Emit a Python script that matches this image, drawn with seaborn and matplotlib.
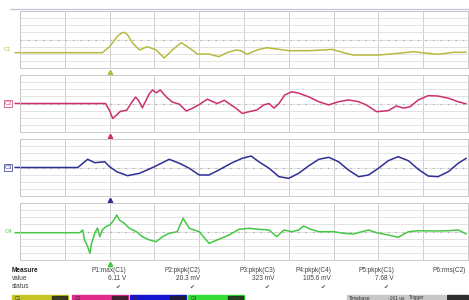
import matplotlib
matplotlib.use("Agg")
import matplotlib.pyplot as plt
import seaborn as sns
from matplotlib.patches import Rectangle

# traces: time in divisions (10 across the screen), amplitude in divisions from the centre line
c1_t = [-0.11, 0.89, 1.84, 2.0, 2.16, 2.25, 2.31, 2.37, 2.42, 2.51, 2.67, 2.84, 3.04, 3.22, 3.4,
        3.6, 3.78, 3.96, 4.22, 4.44, 4.62, 4.82, 4.93, 5.07, 5.29, 5.51, 5.78, 6.0, 6.44, 6.78,
        6.96, 7.22, 7.44, 8.0, 8.44, 8.78, 9.11, 9.33, 9.67, 9.96]
c1_v = [-1.85, -1.85, -1.85, -1.01, 0.35, 0.85, 1.01, 0.85, 0.49, -0.49, -1.47, -1.01, -1.47, -2.6, -1.47,
        -0.45, -1.19, -2.04, -2.04, -2.41, -1.85, -1.47, -1.57, -2.08, -1.47, -1.15, -1.38, -1.57, -1.57, -1.47,
        -1.38, -1.85, -2.18, -2.18, -1.94, -1.71, -1.94, -2.08, -1.8, -1.8]

c2_t = [-0.11, 0.89, 1.91, 2.0, 2.07, 2.16, 2.24, 2.38, 2.51, 2.58, 2.64, 2.73, 2.89, 2.96, 3.04,
        3.13, 3.27, 3.4, 3.56, 3.71, 3.84, 4.0, 4.18, 4.4, 4.56, 4.71, 4.82, 4.96, 5.11, 5.29,
        5.44, 5.56, 5.67, 5.78, 5.91, 6.07, 6.22, 6.44, 6.67, 6.89, 7.11, 7.33, 7.56, 7.73, 7.96,
        8.22, 8.4, 8.56, 8.71, 8.89, 9.11, 9.33, 9.56, 9.78, 9.96]
c2_v = [0.0, 0.0, 0.0, -1.0, -2.1, -1.6, -1.1, -0.95, 0.3, 0.9, 0.5, -0.6, 1.4, 1.9, 1.5,
        1.9, 0.9, 0.2, -0.1, -1.05, -0.7, -0.15, 0.6, 0.0, 0.45, -0.2, -0.65, -1.4, -1.15, -0.9,
        -0.2, 0.0, -0.65, 0.0, 1.2, 1.65, 1.45, 0.95, 0.25, -0.2, 0.25, 0.5, 0.25, -0.2, -1.15,
        -1.0, -0.35, -0.65, -0.45, 0.5, 1.1, 1.05, 0.75, 0.25, -0.05]

c3_t = [-0.11, 1.29, 1.51, 1.67, 1.89, 2.0, 2.16, 2.4, 2.67, 3.0, 3.33, 3.56, 3.78, 4.0, 4.22,
        4.44, 4.71, 4.96, 5.16, 5.33, 5.56, 5.78, 6.0, 6.22, 6.44, 6.67, 6.89, 7.11, 7.33, 7.56,
        7.78, 8.0, 8.22, 8.44, 8.67, 8.89, 9.11, 9.33, 9.56, 9.78, 9.96]
c3_v = [0.0, 0.0, 1.15, 0.67, 0.81, 0.11, -0.59, -1.15, -0.81, 0.11, 1.15, 0.59, -0.11, -1.05, -1.05,
        -0.35, 0.59, 1.29, 1.61, 0.81, -0.11, -1.29, -1.52, -0.81, 0.21, 1.15, 1.43, 0.81, -0.35, -1.29,
        -1.05, -0.11, 0.95, 1.52, 0.95, -0.25, -1.19, -1.29, -0.59, 0.59, 1.29]

c4_t = [-0.11, 1.33, 1.4, 1.44, 1.51, 1.56, 1.6, 1.67, 1.73, 1.78, 1.84, 1.91, 2.0, 2.07, 2.16,
        2.22, 2.33, 2.44, 2.6, 2.73, 2.89, 3.04, 3.18, 3.33, 3.51, 3.64, 3.78, 4.0, 4.22, 4.4,
        4.67, 4.89, 5.11, 5.33, 5.56, 5.73, 5.89, 6.07, 6.22, 6.33, 6.49, 6.67, 7.0, 7.22, 7.44,
        7.78, 7.96, 8.22, 8.44, 8.67, 8.89, 9.22, 9.56, 9.78, 9.96]
c4_v = [-0.17, -0.17, 0.21, -1.19, -2.13, -3.06, -1.61, -0.21, 0.49, -0.73, 0.21, 0.67, 0.91, 1.38, 2.32,
        1.61, 1.15, 0.45, -0.03, -0.73, -1.19, -1.43, -0.73, -0.25, -0.03, 1.85, 0.45, -0.03, -1.66, -1.19,
        -0.49, 0.31, 0.45, 0.31, 0.21, -0.73, 0.21, -0.03, 0.21, 0.77, 0.31, -0.03, -0.03, -0.25, -0.35,
        0.21, -0.17, -0.49, -0.81, -0.03, 0.11, 0.07, 0.11, 0.21, -0.35]

channels = ["C1", "C2", "C3", "C4"]
traces = [(c1_t, c1_v), (c2_t, c2_v), (c3_t, c3_v), (c4_t, c4_v)]
trigger_pos = 2.0

measure_names = ["P1:max(C1)", "P2:pkpk(C2)", "P3:pkpk(C3)", "P4:pkpk(C4)", "P5:pkpk(C1)", "P6:rms(C2)"]
measure_values = ["6.11 V", "20.3 mV", "323 mV", "105.6 mV", "7.68 V", ""]
measure_ok = [True, True, True, True, True, False]

# styling
colors = ["#b6ba3e", "#cc2f70", "#2e2e94", "#44c844"]
bar_colors = ["#c4c424", "#e02a8c", "#1414d0", "#34dc34"]
W, H = 469, 300
panel_tops = [11, 75, 139, 203]
panel_h = 57
left, right = 20, 468

sns.set_theme(style="white")
plt.rcParams["font.family"] = ["Liberation Sans", "DejaVu Sans"]

fig = plt.figure(figsize=(W / 100, H / 100), dpi=100)
fig.patch.set_facecolor("white")

# overlay in pixel coordinates for the frame decorations
over = fig.add_axes([0, 0, 1, 1])
over.set_xlim(0, W)
over.set_ylim(H, 0)
over.axis("off")
over.plot([10, W], [9, 9], color="#c4c4d0", lw=0.9)

for i, (name, (t, v)) in enumerate(zip(channels, traces)):
    top = panel_tops[i]
    ax = fig.add_axes([left / W, 1 - (top + panel_h) / H, (right - left) / W, panel_h / H])
    ax.set_xlim(0, 10)
    ax.set_ylim(-4, 4)
    ax.set_xticks(range(11))
    ax.set_yticks(range(-4, 5))
    ax.tick_params(length=0, labelbottom=False, labelleft=False)
    ax.grid(axis="x", color="#c8c8c8", lw=0.6)
    ax.grid(axis="y", color="#dedede", lw=0.6)
    for s in ax.spines.values():
        s.set_color("#c4c4c4")
        s.set_linewidth(0.6)
    ax.axhline(0, color="#a8a8a8", lw=0.9, ls=(0, (1, 5)))

    sns.lineplot(x=t, y=v, ax=ax, color=colors[i], lw=1.1, estimator=None, sort=False)
    ax.lines[-1].set_clip_on(False)
    ax.plot([trigger_pos], [-4.55], marker="^", ms=3.2, color=colors[i], clip_on=False)

    ycen = top + panel_h / 2 + (10 if i == 0 else 0)
    box = dict(boxstyle="square,pad=0.1", fc="none", ec=colors[i], lw=0.5) if i in (1, 2) else None
    over.text(8, ycen, name, color=colors[i], fontsize=4.2, ha="center", va="center", bbox=box)

# measurement table
fs = 4.7
over.text(12, 271, "Measure", fontsize=fs, fontweight="bold", color="#202020", va="center")
over.text(12, 279, "value", fontsize=fs, color="#404040", va="center")
over.text(12, 287, "status", fontsize=fs, color="#404040", va="center")
col_right = [126, 200, 275, 331, 394, 466]
for name, val, ok, xr in zip(measure_names, measure_values, measure_ok, col_right):
    over.text(xr, 271, name, fontsize=fs, color="#404040", ha="right", va="center")
    if val:
        over.text(xr, 279, val, fontsize=fs, color="#404040", ha="right", va="center")
    if ok:
        over.text(xr - 8, 287, "\u2714", fontsize=4.3, color="#505050", ha="center", va="center",
                  family="DejaVu Sans")

# channel descriptor bars along the bottom
bar_x = [12, 72, 130, 188]
for i, x0 in enumerate(bar_x):
    over.add_patch(Rectangle((x0, 295), 56, 6, color=bar_colors[i], clip_on=False))
    over.add_patch(Rectangle((x0 + 40, 296), 15, 4, color="#202020", alpha=0.8, clip_on=False))
    over.text(x0 + 3, 298, channels[i], fontsize=3.5, color="#303030", va="center")

for x0, w, label in [(347, 38, "Timebase"), (386, 20, "-161 us"), (407, 38, "Trigger")]:
    over.add_patch(Rectangle((x0, 295), w, 6, color="#c8c8c8", clip_on=False))
    over.text(x0 + 2, 298, label, fontsize=3.5, color="#303030", va="center")
over.add_patch(Rectangle((447, 295), 21, 6, color="#303030", clip_on=False))

fig.savefig("out.png", dpi=100, facecolor="white")
